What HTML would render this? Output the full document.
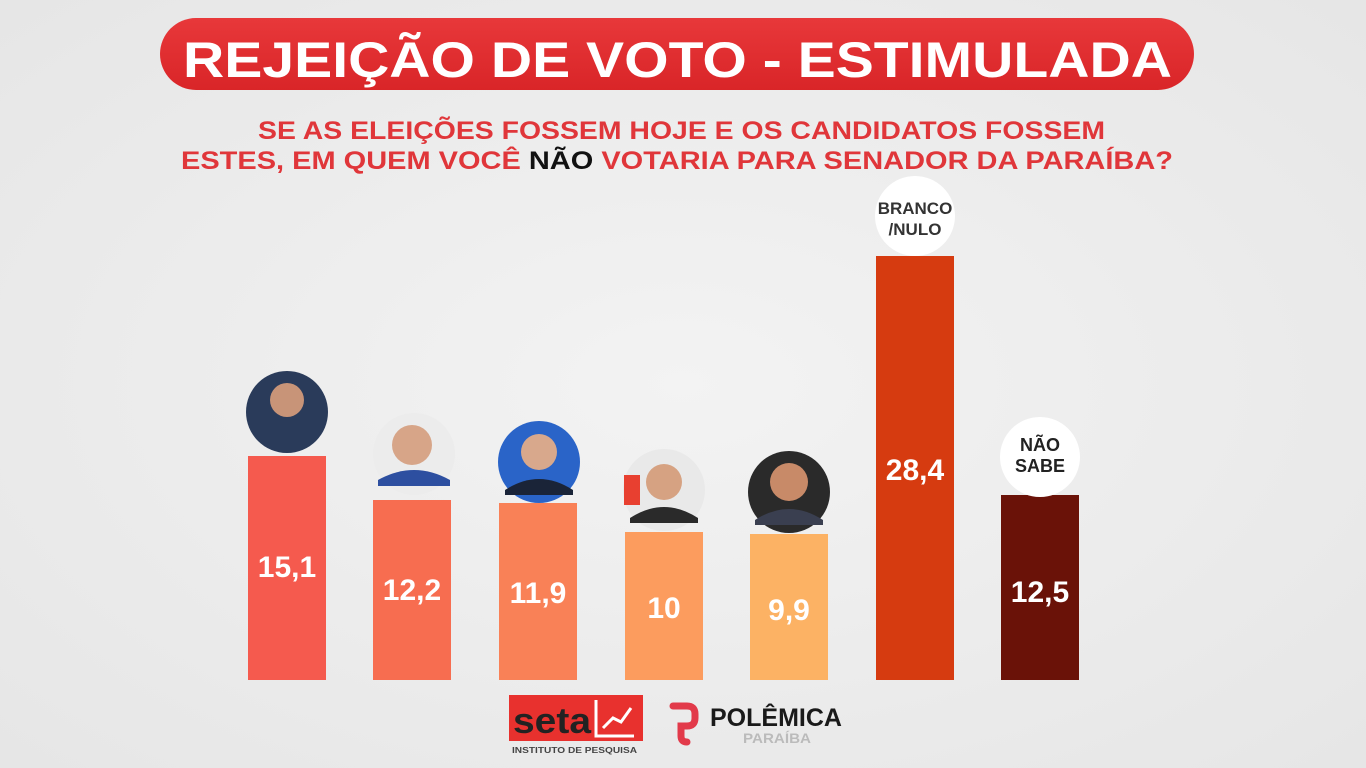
<!DOCTYPE html>
<html><head><meta charset="utf-8"><style>
html,body{margin:0;padding:0;background:#efefef;}
svg{display:block}
text{font-family:"Liberation Sans",sans-serif;font-weight:bold}
</style></head><body>
<svg width="1366" height="768" viewBox="0 0 1366 768">
<defs>
<linearGradient id="tg" x1="0" y1="0" x2="0" y2="1"><stop offset="0" stop-color="#e8383a"/><stop offset="1" stop-color="#d92528"/></linearGradient>
<radialGradient id="bg" cx="0.5" cy="0.5" r="0.7"><stop offset="0" stop-color="#f3f3f3"/><stop offset="1" stop-color="#e6e6e6"/></radialGradient>
</defs>
<rect width="1366" height="768" fill="url(#bg)"/>
<rect x="160" y="18" width="1034" height="72" rx="36" fill="url(#tg)"/>
<text x="183" y="77" font-size="50" fill="#fff" textLength="989" lengthAdjust="spacingAndGlyphs">REJEIÇÃO DE VOTO - ESTIMULADA</text>
<text x="258" y="139" font-size="25" fill="#e0363a" textLength="847" lengthAdjust="spacingAndGlyphs">SE AS ELEIÇÕES FOSSEM HOJE E OS CANDIDATOS FOSSEM</text>
<text x="181" y="169" font-size="25" fill="#e0363a" textLength="992" lengthAdjust="spacingAndGlyphs">ESTES, EM QUEM VOCÊ <tspan fill="#111">NÃO</tspan> VOTARIA PARA SENADOR DA PARAÍBA?</text>

<rect x="248" y="456" width="78" height="224" fill="#f55a4e"/>
<rect x="373" y="500" width="78" height="180" fill="#f76d50"/>
<rect x="499" y="503" width="78" height="177" fill="#f98157"/>
<rect x="625" y="532" width="78" height="148" fill="#fc9c5e"/>
<rect x="750" y="534" width="78" height="146" fill="#fcb264"/>
<rect x="876" y="256" width="78" height="424" fill="#d63b10"/>
<rect x="1001" y="495" width="78" height="185" fill="#6a1208"/>

<g font-size="30" fill="#fff" text-anchor="middle">
<text x="287" y="577">15,1</text>
<text x="412" y="600">12,2</text>
<text x="538" y="603">11,9</text>
<text x="664" y="618">10</text>
<text x="789" y="620">9,9</text>
<text x="915" y="480">28,4</text>
<text x="1040" y="602">12,5</text>
</g>

<g>
<circle cx="287" cy="412" r="41" fill="#2a3b5a"/><circle cx="287" cy="400" r="17" fill="#c89478"/>
<circle cx="414" cy="454" r="41" fill="#ececec"/><circle cx="412" cy="445" r="20" fill="#d7a588"/><path d="M378 480 q36 -20 72 0 v6 h-72z" fill="#2d4fa0"/>
<circle cx="539" cy="462" r="41" fill="#2a64c8"/><circle cx="539" cy="452" r="18" fill="#d8a88c"/><path d="M505 490 q34 -22 68 0 v5 h-68z" fill="#1a2438"/>
<circle cx="664" cy="490" r="41" fill="#e9e9e9"/><circle cx="664" cy="482" r="18" fill="#d6a282"/><path d="M630 518 q34 -22 68 0 v5 h-68z" fill="#2a2a2a"/><rect x="624" y="475" width="16" height="30" fill="#e84030"/>
<circle cx="789" cy="492" r="41" fill="#2a2a2a"/><circle cx="789" cy="482" r="19" fill="#c88a68"/><path d="M755 520 q34 -22 68 0 v5 h-68z" fill="#3a3f50"/>
<circle cx="915" cy="216" r="40" fill="#fff"/>
<text x="915" y="214" font-size="17" fill="#333" text-anchor="middle">BRANCO</text>
<text x="915" y="235" font-size="17" fill="#333" text-anchor="middle">/NULO</text>
<circle cx="1040" cy="457" r="40" fill="#fff"/>
<text x="1040" y="451" font-size="18" fill="#222" text-anchor="middle">NÃO</text>
<text x="1040" y="472" font-size="18" fill="#222" text-anchor="middle">SABE</text>
</g>

<rect x="509" y="695" width="134" height="46" fill="#e8312e"/>
<text x="513" y="733" font-size="36" fill="#222" font-family="Liberation Sans" textLength="78" lengthAdjust="spacingAndGlyphs">seta</text>
<g stroke="#fff" stroke-width="3" fill="none"><path d="M596 700 v36 h38"/><path d="M603 728 l10 -10 l8 4 l10 -14"/></g>
<text x="512" y="753" font-size="8" fill="#444" font-weight="normal" textLength="125" lengthAdjust="spacingAndGlyphs">INSTITUTO DE PESQUISA</text>
<path d="M673 706 h14 q8 0 8 8 v4 q0 8 -8 8 h-6 v10 q0 6 6 6" stroke="#e23a4a" stroke-width="7" fill="none" stroke-linecap="round"/>
<text x="710" y="726" font-size="25" fill="#1a1a1a" textLength="132" lengthAdjust="spacingAndGlyphs">POLÊMICA</text>
<text x="743" y="743" font-size="14" fill="#bbb" font-weight="normal" textLength="68" lengthAdjust="spacingAndGlyphs">PARAÍBA</text>
</svg>
</body></html>
